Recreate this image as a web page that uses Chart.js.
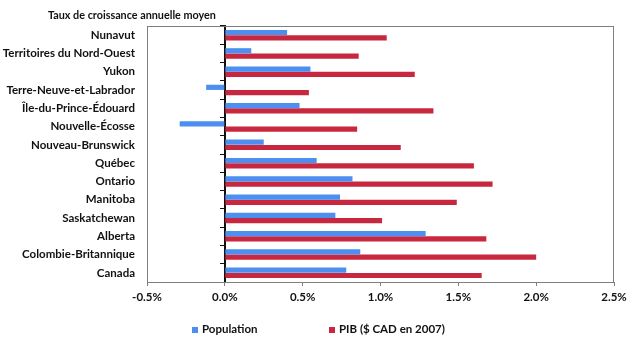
<!DOCTYPE html>
<html><head><meta charset="utf-8">
<script src="https://cdn.jsdelivr.net/npm/chart.js@4/dist/chart.umd.min.js"></script>
<style>
html,body{margin:0;padding:0;background:#fff;}
#wrap{position:relative;width:634px;height:338px;}
#ttl{position:absolute;left:48px;top:8px;font:bold 10.8px Lato, sans-serif;color:#111;white-space:nowrap;}
.lg{position:absolute;top:322px;font:bold 11.5px Lato, sans-serif;color:#111;white-space:nowrap;line-height:14px;}
.lg i{display:inline-block;width:6px;height:6px;margin-right:4px;vertical-align:0px;}
</style></head>
<body><div id="wrap"><canvas id="c" width="634" height="338"></canvas>
<div id="ttl">Taux de croissance annuelle moyen</div>
<div class="lg" id="lg0" style="left:192px"><i></i><span></span></div>
<div class="lg" id="lg1" style="left:329px"><i></i><span></span></div>
</div>
<script>
const categories = ["Nunavut","Territoires du Nord-Ouest","Yukon","Terre-Neuve-et-Labrador","Île-du-Prince-Édouard","Nouvelle-Écosse","Nouveau-Brunswick","Québec","Ontario","Manitoba","Saskatchewan","Alberta","Colombie-Britannique","Canada"];
const population = [0.40,0.17,0.55,-0.12,0.48,-0.29,0.25,0.59,0.82,0.74,0.71,1.29,0.87,0.78];
const pib = [1.04,0.86,1.22,0.54,1.34,0.85,1.13,1.60,1.72,1.49,1.01,1.68,2.00,1.65];
const seriesNames = ["Population","PIB ($ CAD en 2007)"];
const seriesColors = ["#4d8ff0","#c8283f"];
const xTicks = [-0.5,0,0.5,1.0,1.5,2.0,2.5];

const FONT = {family:'Lato',size:11.5,weight:'bold'};

const frame = {
  id:'frame',
  afterDatasetsDraw(chart){
    const a = chart.chartArea, ctx = chart.ctx;
    ctx.save();
    ctx.strokeStyle = '#7f7f7f';
    ctx.lineWidth = 1;
    ctx.strokeRect(a.left+0.5, a.top+0.5, a.right-a.left-1, a.bottom-a.top);
    ctx.restore();
  }
};

const chart = new Chart(document.getElementById('c'), {
  type:'bar',
  data:{
    labels:categories,
    datasets:[
      {label:seriesNames[0], data:population, backgroundColor:seriesColors[0], categoryPercentage:0.58, barPercentage:0.98},
      {label:seriesNames[1], data:pib, backgroundColor:seriesColors[1], categoryPercentage:0.58, barPercentage:0.98}
    ]
  },
  plugins:[frame],
  options:{
    indexAxis:'y',
    responsive:false,
    animation:false,
    layout:{padding:{top:26,right:20,left:0,bottom:0}},
    plugins:{
      legend:{display:false},
      tooltip:{enabled:false}
    },
    scales:{
      x:{
        min:-0.5,max:2.5,
        afterBuildTicks(s){ s.ticks = xTicks.map(v=>({value:v})); },
        grid:{drawOnChartArea:false,drawTicks:true,tickLength:4,color:'#7f7f7f'},
        border:{display:true,color:'#7f7f7f'},
        ticks:{padding:4,color:'#111',font:FONT,
          callback:(v)=>Number(v).toFixed(1)+'%'},
        afterFit(s){ s.height = 56; }
      },
      y:{
        grid:{display:false,drawTicks:false},
        border:{display:true,color:'#7f7f7f'},
        ticks:{padding:12,color:'#111',autoSkip:false,font:FONT},
        afterFit(s){ s.width = 147; }
      },
      y0:{
        type:'category',
        labels:categories,
        position:{x:0},
        grid:{drawOnChartArea:false,drawTicks:true,tickLength:4,color:'#111',offset:true},
        border:{display:true,color:'#111',width:2},
        ticks:{display:false,autoSkip:false}
      }
    }
  }
});

chart.data.datasets.forEach((d,i)=>{
  const el = document.getElementById('lg'+i);
  el.querySelector('i').style.background = d.backgroundColor;
  el.querySelector('span').textContent = d.label;
});
</script>
</body></html>
